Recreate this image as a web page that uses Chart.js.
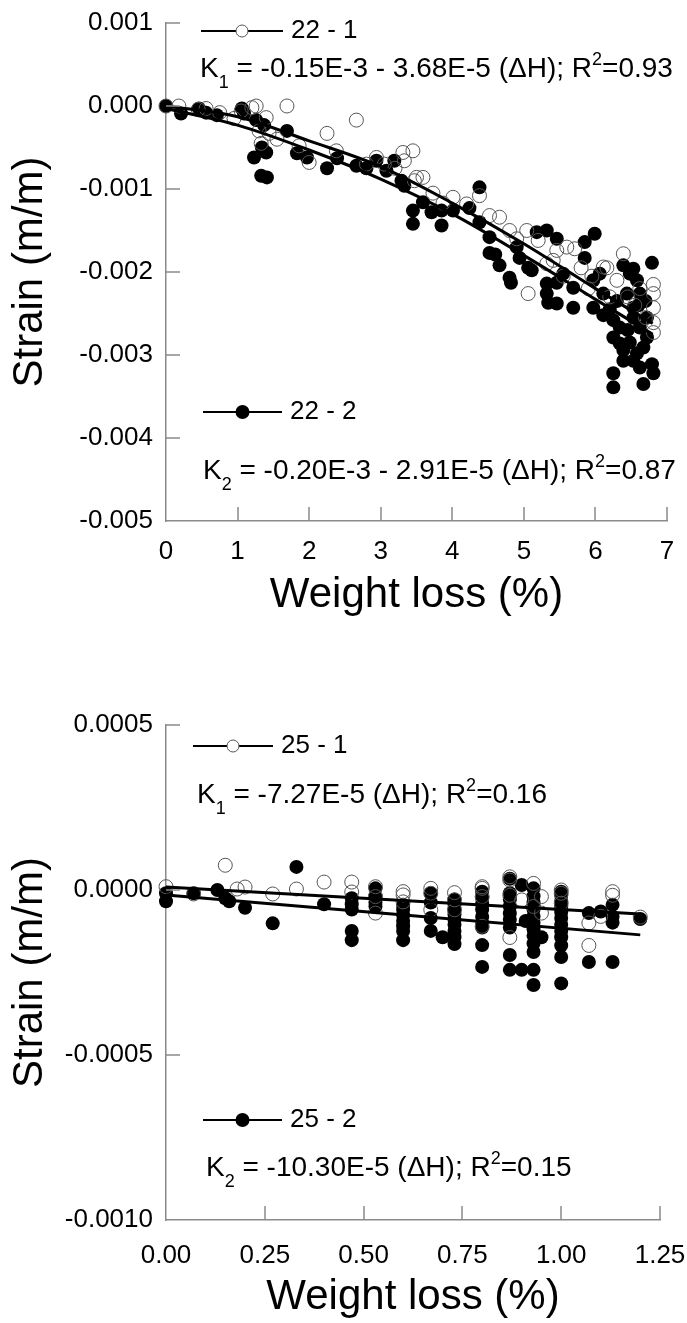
<!DOCTYPE html>
<html>
<head>
<meta charset="utf-8">
<script src="https://cdn.jsdelivr.net/npm/chart.js@4.4.0/dist/chart.umd.min.js"></script>
<style>
    html, body { margin: 0; padding: 0; background: #fff; }
    #wrap { position: relative; width: 687px; height: 1323px; }
    canvas { position: absolute; left: 0; }
    #c22 { top: 0; }
    #c25 { top: 640px; }
</style>
</head>
<body>
<div id="wrap">
    <canvas id="c22" width="687" height="640"></canvas>
    <canvas id="c25" width="687" height="683"></canvas>
</div>
<script>
// ==========================================
// DATA - panel 22 (weight loss %, strain m/m)
// ==========================================
const wl22_1 = [0.00,0.18,0.45,0.56,0.75,0.95,1.05,1.20,1.26,1.30,1.33,1.40,1.44,1.55,1.69,1.86,2.00,2.25,2.38,2.66,
    2.80,2.94,3.05,3.20,3.31,3.33,3.45,3.47,3.50,3.59,3.73,3.87,4.01,4.20,4.38,4.52,4.66,4.80,4.90,5.04,
    5.06,5.20,5.32,5.41,5.46,5.55,5.60,5.71,5.80,5.90,5.95,6.11,6.16,6.20,6.30,6.39,6.45,6.55,6.62,6.70,
    6.81,6.81,6.81,6.81,6.81];
const st22_1 = [0.00000,0.00000,-0.00004,-0.00003,-0.00008,-0.00015,-0.00006,-0.00002,0.00000,-0.00030,-0.00045,-0.00014,-0.00033,-0.00040,0.00000,-0.00048,-0.00068,-0.00033,-0.00054,-0.00017,
    -0.00070,-0.00062,-0.00070,-0.00075,-0.00056,-0.00066,-0.00054,-0.00090,-0.00086,-0.00086,-0.00105,-0.00117,-0.00110,-0.00118,-0.00108,-0.00132,-0.00134,-0.00150,-0.00160,-0.00150,
    -0.00226,-0.00162,-0.00190,-0.00186,-0.00174,-0.00205,-0.00170,-0.00172,-0.00195,-0.00220,-0.00205,-0.00194,-0.00195,-0.00230,-0.00210,-0.00178,-0.00230,-0.00240,-0.00220,-0.00255,
    -0.00215,-0.00226,-0.00243,-0.00261,-0.00273];

const wl22_2 = [0.00,0.21,0.46,0.56,0.71,1.06,1.09,1.26,1.37,1.69,1.34,1.40,1.23,1.33,1.41,1.83,1.97,2.25,2.39,2.66,
    2.80,2.94,3.08,3.19,3.29,3.33,3.45,3.45,3.59,3.71,3.85,3.85,4.01,4.24,4.38,4.38,4.52,4.52,4.60,4.66,
    4.80,4.82,4.90,4.94,5.06,5.11,5.18,5.32,5.46,5.85,5.99,5.85,6.79,6.39,6.53,5.32,5.32,5.34,5.46,5.46,
    5.55,5.69,5.69,5.97,5.97,6.06,6.11,6.11,6.20,6.25,6.25,6.25,6.25,6.30,6.34,6.34,6.39,6.39,6.44,6.45,
    6.48,6.48,6.53,6.53,6.53,6.58,6.58,6.60,6.62,6.62,6.62,6.67,6.67,6.70,6.72,6.72,6.79,6.81];
const st22_2 = [0.00000,-0.00009,-0.00003,-0.00008,-0.00011,-0.00003,-0.00009,-0.00017,-0.00023,-0.00030,-0.00050,-0.00056,-0.00062,-0.00084,-0.00086,-0.00057,-0.00062,-0.00075,-0.00063,-0.00072,
    -0.00075,-0.00066,-0.00078,-0.00066,-0.00090,-0.00096,-0.00126,-0.00142,-0.00116,-0.00128,-0.00126,-0.00144,-0.00126,-0.00123,-0.00098,-0.00140,-0.00158,-0.00177,-0.00179,-0.00192,
    -0.00207,-0.00213,-0.00170,-0.00183,-0.00195,-0.00198,-0.00152,-0.00150,-0.00160,-0.00164,-0.00154,-0.00183,-0.00189,-0.00192,-0.00196,-0.00214,-0.00226,-0.00237,-0.00238,-0.00213,
    -0.00202,-0.00219,-0.00243,-0.00210,-0.00243,-0.00202,-0.00226,-0.00252,-0.00245,-0.00258,-0.00279,-0.00322,-0.00339,-0.00235,-0.00267,-0.00286,-0.00294,-0.00307,-0.00226,-0.00270,
    -0.00202,-0.00285,-0.00243,-0.00255,-0.00307,-0.00210,-0.00298,-0.00240,-0.00226,-0.00267,-0.00315,-0.00291,-0.00335,-0.00235,-0.00255,-0.00279,-0.00311,-0.00322];

// fitted curves
const fitX22 = [0, 1, 2, 3, 4, 5, 6, 6.8];
const fit22_1 = [0.00000,-0.00013,-0.00042,-0.00073,-0.00117,-0.00166,-0.00220,-0.00262];
const fit22_2 = [-0.00003,-0.00023,-0.00053,-0.00088,-0.00130,-0.00180,-0.00233,-0.00275];

// ==========================================
// DATA - panel 25
// ==========================================
const wl25_1 = [0.00,0.07,0.15,0.18,0.20,0.27,0.33,0.40,0.47,0.47,0.53,0.53,0.53,0.60,0.60,0.60,0.67,0.67,0.67,0.73,
    0.73,0.73,0.80,0.80,0.80,0.80,0.87,0.87,0.87,0.87,0.90,0.93,0.93,0.95,0.95,1.00,1.00,1.00,1.07,1.07,
    1.10,1.13,1.13,1.20];
const st25_1 = [0.000010,-0.000012,0.000075,0.000003,0.000009,-0.000012,0.000003,0.000024,0.000024,-0.000006,0.000010,-0.000070,-0.000020,-0.000015,-0.000036,-0.000005,0.000005,-0.000010,-0.000060,-0.000008,
    -0.000060,-0.000030,0.000005,0.000010,-0.000110,-0.000020,0.000040,-0.000016,-0.000144,0.000030,-0.000030,0.000020,-0.000050,-0.000020,-0.000070,0.000000,-0.000010,-0.000040,-0.000100,-0.000168,
    -0.000080,-0.000016,-0.000005,-0.000082];

const wl25_2 = [0.00,0.00,0.07,0.13,0.15,0.16,0.20,0.27,0.33,0.40,
    0.47,0.47,0.47,0.47,0.47,0.53,0.53,0.53,0.53,
    0.60,0.60,0.60,0.60,0.60,0.60,0.60,0.67,0.67,0.67,0.67,0.70,
    0.73,0.73,0.73,0.73,0.73,0.73,0.73,0.73,0.73,
    0.80,0.80,0.80,0.80,0.80,0.80,0.80,0.80,0.80,
    0.87,0.87,0.87,0.87,0.87,0.87,0.87,0.87,0.87,
    0.90,0.90,0.91,
    0.93,0.93,0.93,0.93,0.93,0.93,0.93,0.93,0.93,0.93,0.93,0.93,0.95,
    1.00,1.00,1.00,1.00,1.00,1.00,1.00,1.00,1.00,1.00,1.00,1.00,
    1.07,1.07,1.10,1.13,1.13,1.13,1.13,1.20];
const st25_2 = [-0.000010,-0.000034,-0.000010,0.000000,-0.000025,-0.000034,-0.000054,-0.000101,0.000070,-0.000043,
    -0.000025,-0.000043,-0.000059,-0.000124,-0.000152,0.000005,-0.000019,-0.000038,-0.000050,
    -0.000045,-0.000059,-0.000076,-0.000094,-0.000110,-0.000124,-0.000152,-0.000010,-0.000038,-0.000085,-0.000124,-0.000143,
    -0.000029,-0.000045,-0.000059,-0.000074,-0.000090,-0.000105,-0.000124,-0.000143,-0.000164,
    -0.000005,-0.000025,-0.000043,-0.000059,-0.000081,-0.000099,-0.000114,-0.000167,-0.000233,
    0.000034,-0.000010,-0.000029,-0.000050,-0.000071,-0.000090,-0.000114,-0.000197,-0.000242,
    0.000015,-0.000242,-0.000094,
    0.000005,-0.000019,-0.000038,-0.000059,-0.000080,-0.000099,-0.000119,-0.000139,-0.000162,-0.000188,-0.000242,-0.000288,-0.000143,
    -0.000005,-0.000015,-0.000033,-0.000050,-0.000067,-0.000085,-0.000105,-0.000124,-0.000143,-0.000168,-0.000203,-0.000283,
    -0.000070,-0.000218,-0.000065,-0.000045,-0.000081,-0.000099,-0.000218,-0.000088];

const fitX25 = [0, 1.2];
const fit25_1 = [0.000009, -0.000073];
const fit25_2 = [-0.000015, -0.000136];

// tick values
const xTicks22 = [0, 1, 2, 3, 4, 5, 6, 7];
const yTicks22 = [0.001, 0.000, -0.001, -0.002, -0.003, -0.004, -0.005];
const xTicks25 = [0.00, 0.25, 0.50, 0.75, 1.00, 1.25];
const yTicks25 = [0.0005, 0.0000, -0.0005, -0.0010];

// ==========================================
// HELPERS
// ==========================================
const FONT = "'Liberation Sans', Arial, Helvetica, sans-serif";
const AXIS_GREY = '#8a8a8a';

function pts(xs, ys) {
    return xs.map((x, i) => ({ x: x, y: ys[i] }));
}

// tick marks point into the plot, like the original figure
const inwardTicks = {
    id: 'inwardTicks',
    afterDraw(chart) {
        const { ctx, chartArea } = chart;
        const x = chart.scales.x, y = chart.scales.y;
        ctx.save();
        ctx.strokeStyle = AXIS_GREY;
        ctx.lineWidth = 1.5;
        ctx.beginPath();
        y.ticks.forEach(t => {
            if (t.value <= y.min + 1e-12) return;
            const py = Math.round(y.getPixelForValue(t.value));
            ctx.moveTo(chartArea.left, py);
            ctx.lineTo(chartArea.left + 14, py);
        });
        x.ticks.forEach(t => {
            if (t.value <= x.min + 1e-9) return;
            const px = Math.round(x.getPixelForValue(t.value));
            ctx.moveTo(px, chartArea.bottom);
            ctx.lineTo(px, chartArea.bottom - 14);
        });
        ctx.stroke();
        ctx.restore();
    }
};

// legend keys + equations drawn inside the plot
function makeNotes(items) {
    return {
        id: 'notes',
        afterDraw(chart) {
            const ctx = chart.ctx;
            ctx.save();
            ctx.fillStyle = '#000';
            ctx.strokeStyle = '#000';
            items.forEach(it => {
                if (it.kind === 'key') {
                    ctx.lineWidth = 2;
                    ctx.beginPath();
                    ctx.moveTo(it.x1, it.y);
                    ctx.lineTo(it.x2, it.y);
                    ctx.stroke();
                    const cx = (it.x1 + it.x2) / 2;
                    ctx.beginPath();
                    ctx.arc(cx, it.y, it.filled ? 7 : 6, 0, Math.PI * 2);
                    if (it.filled) {
                        ctx.fill();
                    } else {
                        ctx.fillStyle = '#fff';
                        ctx.fill();
                        ctx.lineWidth = 1;
                        ctx.strokeStyle = '#555';
                        ctx.stroke();
                        ctx.fillStyle = '#000';
                        ctx.strokeStyle = '#000';
                    }
                    ctx.font = '26px ' + FONT;
                    ctx.textBaseline = 'middle';
                    ctx.textAlign = 'left';
                    ctx.fillText(it.label, it.x2 + 8, it.y);
                } else {
                    let cx = it.x;
                    ctx.textBaseline = 'alphabetic';
                    ctx.textAlign = 'left';
                    it.parts.forEach(p => {
                        let size = 28, dy = 0;
                        if (p.sub) { size = 18; dy = 11; }
                        if (p.sup) { size = 18; dy = -12; }
                        ctx.font = size + 'px ' + FONT;
                        ctx.fillText(p.t, cx, it.y + dy);
                        cx += ctx.measureText(p.t).width;
                    });
                }
            });
            ctx.restore();
        }
    };
}

function makeChart(id, cfg) {
    const H = document.getElementById(id).height;
    return new Chart(document.getElementById(id), {
        type: 'scatter',
        data: {
            datasets: [
                {
                    data: pts(cfg.fitX, cfg.fitA),
                    showLine: true, borderColor: '#000', borderWidth: 3,
                    pointRadius: 0, cubicInterpolationMode: 'monotone', order: 0, clip: false
                },
                {
                    data: pts(cfg.fitX, cfg.fitB),
                    showLine: true, borderColor: '#000', borderWidth: 3,
                    pointRadius: 0, cubicInterpolationMode: 'monotone', order: 0, clip: false
                },
                {
                    data: pts(cfg.openX, cfg.openY),
                    pointRadius: 7, pointBorderWidth: 1,
                    pointBorderColor: '#555', pointBackgroundColor: 'rgba(255,255,255,0)',
                    order: 1, clip: false
                },
                {
                    data: pts(cfg.fillX, cfg.fillY),
                    pointRadius: 7, pointBorderWidth: 0,
                    pointBorderColor: '#000', pointBackgroundColor: '#000',
                    order: 2, clip: false
                }
            ]
        },
        options: {
            responsive: false,
            animation: false,
            events: [],
            layout: { padding: { top: cfg.top, right: 687 - cfg.right, left: 0, bottom: 0 } },
            plugins: { legend: { display: false }, tooltip: { enabled: false } },
            scales: {
                x: {
                    type: 'linear',
                    min: cfg.xTicks[0], max: cfg.xTicks[cfg.xTicks.length - 1],
                    afterFit: s => {
                        s.height = H - cfg.bottom;
                        s.paddingLeft = 0;
                        s.paddingRight = 0;
                    },
                    afterBuildTicks: s => { s.ticks = cfg.xTicks.map(v => ({ value: v })); },
                    grid: { display: false, drawTicks: false },
                    border: { display: true, color: AXIS_GREY, width: 1.5 },
                    ticks: {
                        autoSkip: false, maxRotation: 0, padding: cfg.xTickPad, color: '#000',
                        font: { family: FONT, size: 26 },
                        callback: v => v.toFixed(cfg.xDec)
                    },
                    title: {
                        display: true, text: 'Weight loss (%)', color: '#000',
                        font: { family: FONT, size: 42 },
                        padding: { top: 0, bottom: cfg.xTitlePad }
                    }
                },
                y: {
                    type: 'linear',
                    min: cfg.yTicks[cfg.yTicks.length - 1], max: cfg.yTicks[0],
                    afterFit: s => {
                        s.width = 166;
                        s.paddingTop = 0;
                        s.paddingBottom = 0;
                    },
                    afterBuildTicks: s => { s.ticks = cfg.yTicks.slice().reverse().map(v => ({ value: v })); },
                    grid: { display: false, drawTicks: false },
                    border: { display: true, color: AXIS_GREY, width: 1.5 },
                    ticks: {
                        autoSkip: false, padding: 13, color: '#000',
                        font: { family: FONT, size: 26 },
                        callback: v => v.toFixed(cfg.yDec)
                    },
                    title: {
                        display: true, text: 'Strain (m/m)', color: '#000',
                        font: { family: FONT, size: 42 },
                        padding: { top: 5, bottom: 0 }
                    }
                }
            }
        },
        plugins: [inwardTicks, makeNotes(cfg.notes)]
    });
}

// ==========================================
// DRAW
// ==========================================
document.addEventListener('DOMContentLoaded', () => {
    makeChart('c22', {
        fitX: fitX22, fitA: fit22_1, fitB: fit22_2,
        openX: wl22_1, openY: st22_1, fillX: wl22_2, fillY: st22_2,
        xTicks: xTicks22, yTicks: yTicks22, xDec: 0, yDec: 3,
        top: 23, bottom: 521, right: 667, xTickPad: 15, xTitlePad: 19,
        notes: [
            { kind: 'key', x1: 201, x2: 283, y: 31, filled: false, label: '22 - 1' },
            { kind: 'eq', x: 200, y: 77, parts: [
                { t: 'K' }, { t: '1', sub: true }, { t: ' = -0.15E-3 - 3.68E-5 (ΔH); R' }, { t: '2', sup: true }, { t: '=0.93' }] },
            { kind: 'key', x1: 203, x2: 282, y: 412, filled: true, label: '22 - 2' },
            { kind: 'eq', x: 203, y: 479, parts: [
                { t: 'K' }, { t: '2', sub: true }, { t: ' = -0.20E-3 - 2.91E-5 (ΔH); R' }, { t: '2', sup: true }, { t: '=0.87' }] }
        ]
    });

    makeChart('c25', {
        fitX: fitX25, fitA: fit25_1, fitB: fit25_2,
        openX: wl25_1, openY: st25_1, fillX: wl25_2, fillY: st25_2,
        xTicks: xTicks25, yTicks: yTicks25, xDec: 2, yDec: 4,
        top: 85, bottom: 580, right: 660, xTickPad: 20, xTitlePad: 0,
        notes: [
            { kind: 'key', x1: 193, x2: 273, y: 106, filled: false, label: '25 - 1' },
            { kind: 'eq', x: 197, y: 163, parts: [
                { t: 'K' }, { t: '1', sub: true }, { t: ' = -7.27E-5 (ΔH); R' }, { t: '2', sup: true }, { t: '=0.16' }] },
            { kind: 'key', x1: 203, x2: 282, y: 480, filled: true, label: '25 - 2' },
            { kind: 'eq', x: 206, y: 536, parts: [
                { t: 'K' }, { t: '2', sub: true }, { t: ' = -10.30E-5 (ΔH); R' }, { t: '2', sup: true }, { t: '=0.15' }] }
        ]
    });
});
</script>
</body>
</html>
